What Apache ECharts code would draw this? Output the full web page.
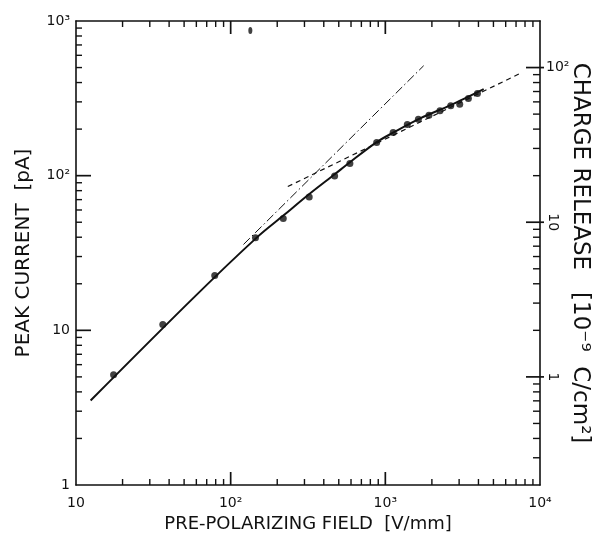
<!DOCTYPE html>
<html>
<head>
<meta charset="utf-8">
<script src="https://cdn.jsdelivr.net/npm/echarts@6/dist/echarts.min.js"></script>
<style>
  html, body { margin: 0; padding: 0; background: #fff; }
  #chart { width: 597px; height: 534px; }
</style>
</head>
<body>
<div id="chart"></div>
<script>
// Measured peak current against pre-polarizing field
const fieldVmm = [17.5, 36.4, 78.9, 144.7, 218.8, 322, 470, 590, 879, 1123, 1387, 1635, 1914, 2255, 2647, 3027, 3444, 3940];
const peakCurrentPA = [5.16, 10.9, 22.6, 39.7, 52.9, 72.8, 99.5, 120, 164, 190, 214, 232, 246, 263, 283, 290, 316, 340];

// Lone point near the top edge
const strayField = [134];
const strayCurrent = [867];

// Smooth curve through the measurements
const fitField = [12.43, 56.6, 149.1, 220, 321, 470, 596, 878.5, 1123, 1692, 2647, 4325];
const fitCurrent = [3.52, 15.98, 40.2, 55.4, 75.8, 102, 123, 164.7, 189.7, 235.5, 286, 363];

// Low-field asymptote (dash-dot) and high-field asymptote (dashed)
const linearField = [121, 1770];
const linearCurrent = [35.9, 514];
const sqrtField = [234, 7295];
const sqrtCurrent = [85, 454];

// Axis ranges
const fieldRange = [10, 10000];
const currentRange = [1, 1000];
const chargeRange = [0.2, 200];

// Tick positions (major and minor) for the four sides of the frame
const fieldMajorTicks = [100, 1000];
const fieldMinorTicks = [20, 30, 40, 50, 60, 70, 80, 90, 200, 300, 400, 500, 600, 700, 800, 900,
  2000, 3000, 4000, 5000, 6000, 7000, 8000, 9000];
const currentMajorTicks = [10, 100];
const currentMinorTicks = [2, 3, 4, 5, 6, 7, 8, 9, 20, 30, 40, 50, 60, 70, 80, 90,
  200, 300, 400, 500, 600, 700, 800, 900];
const chargeMajorTicks = [1, 10, 100];
const chargeMinorTicks = [0.3, 0.4, 0.5, 0.6, 0.7, 0.8, 0.9, 2, 3, 4, 5, 6, 7, 8, 9,
  20, 30, 40, 50, 60, 70, 80, 90];

const FONT = 'DejaVu Sans';
const INK = '#111';

const zip = (xs, ys) => xs.map((x, i) => [x, ys[i]]);
const SUP = { '2': '²', '3': '³', '4': '⁴' };
function powerLabel(v) {
  const e = Math.round(Math.log10(v));
  if (e === 0) return '1';
  if (e === 1) return '10';
  return '10' + SUP[String(e)];
}

// Inward tick marks, placed on the frame through the axes' own scales.
// They sit on their own canvas layer (zlevel 1).
function tickSeries(data, size, offset, yAxisIndex) {
  return {
    type: 'scatter', xAxisIndex: 0, yAxisIndex: yAxisIndex || 0,
    data, symbol: 'rect', symbolSize: size, symbolOffset: offset,
    clip: false, silent: true, zlevel: 1, z: 6,
    itemStyle: { color: INK, borderWidth: 0, opacity: 1 }
  };
}

const axisLineStyle = { color: INK, width: 1.6 };

const chart = echarts.init(document.getElementById('chart'), null, { renderer: 'canvas' });

chart.setOption({
  animation: false,
  backgroundColor: '#fff',
  grid: { left: 76, right: 57, top: 21, bottom: 49, containLabel: false, outerBoundsMode: 'none' },
  xAxis: [
    {
      type: 'log', logBase: 10, min: fieldRange[0], max: fieldRange[1], position: 'bottom',
      axisLine: { show: true, lineStyle: axisLineStyle },
      axisTick: { show: false },
      axisLabel: { margin: 11, formatter: powerLabel, fontFamily: FONT, fontSize: 14, color: INK },
      splitLine: { show: false },
      name: 'PRE-POLARIZING FIELD  [V/mm]', nameLocation: 'middle', nameGap: 20,
      nameTextStyle: { fontFamily: FONT, fontSize: 18, color: INK }
    },
    {
      type: 'log', logBase: 10, min: fieldRange[0], max: fieldRange[1], position: 'top',
      axisLine: { show: true, lineStyle: axisLineStyle },
      axisTick: { show: false },
      axisLabel: { show: false },
      splitLine: { show: false }
    }
  ],
  yAxis: [
    {
      type: 'log', logBase: 10, min: currentRange[0], max: currentRange[1], position: 'left',
      axisLine: { show: true, lineStyle: axisLineStyle },
      axisTick: { show: false },
      axisLabel: { margin: 6, formatter: powerLabel, fontFamily: FONT, fontSize: 14, color: INK },
      splitLine: { show: false },
      name: 'PEAK CURRENT  [pA]', nameLocation: 'middle', nameGap: 42, nameRotate: 90,
      nameTextStyle: { fontFamily: FONT, fontSize: 20, color: INK }
    },
    {
      type: 'log', logBase: 10, min: chargeRange[0], max: chargeRange[1], position: 'right',
      axisLine: { show: true, lineStyle: axisLineStyle },
      axisTick: { show: false },
      axisLabel: {
        margin: 6, rotate: -90,
        formatter: function (v) {
          const e = Math.log10(v);
          if (Math.abs(e - Math.round(e)) > 1e-6) return '';
          const r = Math.round(e);
          return r === 0 ? '1' : (r === 1 ? '10' : '');
        },
        fontFamily: FONT, fontSize: 14, color: INK
      },
      splitLine: { show: false },
      name: 'CHARGE RELEASE   [10⁻⁹  C/cm²]', nameLocation: 'middle', nameGap: 28, nameRotate: -90,
      nameTextStyle: { fontFamily: FONT, fontSize: 23, color: INK }
    },
    {
      type: 'log', logBase: 10, min: chargeRange[0], max: chargeRange[1], position: 'right',
      axisLine: { show: false },
      axisTick: { show: false },
      axisLabel: {
        margin: 6,
        formatter: function (v) {
          return Math.abs(Math.log10(v) - 2) < 1e-6 ? '10²' : '';
        },
        fontFamily: FONT, fontSize: 14, color: INK
      },
      splitLine: { show: false }
    }
  ],
  series: [
    // bottom edge
    tickSeries(fieldMajorTicks.map(v => [v, currentRange[0]]), [1.7, 13], [0, -6.5]),
    tickSeries(fieldMinorTicks.map(v => [v, currentRange[0]]), [1.4, 6], [0, -3]),
    // top edge
    tickSeries(fieldMajorTicks.map(v => [v, currentRange[1]]), [1.7, 13], [0, 6.5]),
    tickSeries(fieldMinorTicks.map(v => [v, currentRange[1]]), [1.4, 6], [0, 3]),
    // left edge
    tickSeries(currentMajorTicks.map(v => [fieldRange[0], v]), [15, 1.7], [7.5, 0]),
    tickSeries(currentMinorTicks.map(v => [fieldRange[0], v]), [6, 1.4], [3, 0]),
    // right edge (charge scale)
    tickSeries(chargeMajorTicks.map(v => [fieldRange[1], v]), [18, 1.7], [-5, 0], 1),
    tickSeries(chargeMinorTicks.map(v => [fieldRange[1], v]), [7, 1.4], [-3.5, 0], 1),
    {
      type: 'line', xAxisIndex: 0, yAxisIndex: 0,
      data: zip(linearField, linearCurrent),
      showSymbol: false, silent: true, clip: false,
      lineStyle: { color: INK, width: 1, type: [9, 3, 1.5, 3] }
    },
    {
      type: 'line', xAxisIndex: 0, yAxisIndex: 0,
      data: zip(sqrtField, sqrtCurrent),
      showSymbol: false, silent: true, clip: false,
      lineStyle: { color: INK, width: 1.2, type: [5, 4] }
    },
    {
      type: 'line', xAxisIndex: 0, yAxisIndex: 0,
      data: zip(fitField, fitCurrent),
      showSymbol: false, silent: true, smooth: 0.3, clip: false,
      lineStyle: { color: INK, width: 2 }
    },
    {
      type: 'scatter', xAxisIndex: 0, yAxisIndex: 0,
      data: zip(fieldVmm, peakCurrentPA),
      symbol: 'circle', symbolSize: 7, silent: true, clip: false,
      itemStyle: { color: INK }
    },
    {
      type: 'scatter', xAxisIndex: 0, yAxisIndex: 0,
      data: zip(strayField, strayCurrent),
      symbol: 'circle', symbolSize: [4, 7], silent: true, clip: false,
      itemStyle: { color: INK }
    }
  ]
});
</script>
</body>
</html>
